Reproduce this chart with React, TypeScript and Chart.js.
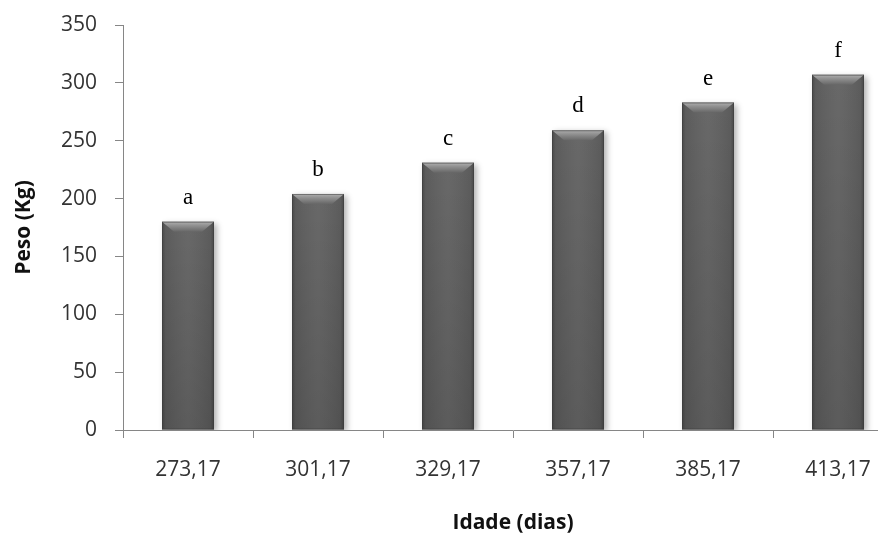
import { useEffect, useRef } from "react";
import { Chart, registerables } from "chart.js";

Chart.register(...registerables);

// Age at weighing (days) and mean body weight (kg)
const idades = ["273,17", "301,17", "329,17", "357,17", "385,17", "413,17"];
const pesos = [180, 204, 231, 259, 283, 307];
// Significance letters shown above each bar
const letras = ["a", "b", "c", "d", "e", "f"];

const Y_MIN = 0;
const Y_MAX = 350;
const Y_STEP = 50;

const AXIS_GRAY = "#868686";
const SANS = '"Open Sans", "DejaVu Sans", sans-serif';

// Shadow behind the bars, then bevel/shading overlay and letters on top
const barStyle = {
  id: "barStyle",
  beforeDatasetsDraw(chart: any) {
    const ctx = chart.ctx;
    ctx.save();
    ctx.shadowColor = "rgba(0,0,0,0.3)";
    ctx.shadowBlur = 6;
    ctx.shadowOffsetX = 3;
    ctx.shadowOffsetY = 2;
  },
  afterDatasetsDraw(chart: any) {
    const ctx = chart.ctx;
    ctx.restore();
    const meta = chart.getDatasetMeta(0);
    meta.data.forEach((bar: any, i: number) => {
      const { x, y, base, width } = bar.getProps(["x", "y", "base", "width"], true);
      const l = x - width / 2;
      const r = x + width / 2;
      const h = base - y;

      ctx.save();
      // side shading
      const side = ctx.createLinearGradient(l, 0, r, 0);
      side.addColorStop(0, "rgba(0,0,0,0.25)");
      side.addColorStop(0.07, "rgba(0,0,0,0.06)");
      side.addColorStop(0.5, "rgba(255,255,255,0.04)");
      side.addColorStop(0.93, "rgba(0,0,0,0.06)");
      side.addColorStop(1, "rgba(0,0,0,0.25)");
      ctx.fillStyle = side;
      ctx.fillRect(l, y, width, h);

      // slightly darker toward the base
      const vert = ctx.createLinearGradient(0, y, 0, base);
      vert.addColorStop(0, "rgba(0,0,0,0)");
      vert.addColorStop(1, "rgba(0,0,0,0.12)");
      ctx.fillStyle = vert;
      ctx.fillRect(l, y, width, h);

      // top bevel
      const bh = 10;
      const bi = 12;
      const top = ctx.createLinearGradient(0, y, 0, y + bh);
      top.addColorStop(0, "#b0b0b0");
      top.addColorStop(0.35, "#939393");
      top.addColorStop(1, "#676767");
      ctx.beginPath();
      ctx.moveTo(l, y);
      ctx.lineTo(r, y);
      ctx.lineTo(r - bi, y + bh);
      ctx.lineTo(l + bi, y + bh);
      ctx.closePath();
      ctx.fillStyle = top;
      ctx.fill();
      ctx.strokeStyle = "rgba(60,60,60,0.55)";
      ctx.lineWidth = 1;
      ctx.strokeRect(l + 0.5, y + 0.5, width - 1, h - 1);
      ctx.restore();

      // letter above the bar
      ctx.save();
      ctx.font = '23px "Liberation Serif", "DejaVu Serif", serif';
      ctx.fillStyle = "#000";
      ctx.textAlign = "center";
      ctx.textBaseline = "alphabetic";
      ctx.fillText(letras[i], x, y - 18);
      ctx.restore();
    });
  },
};

export default function App() {
  const canvasRef = useRef<HTMLCanvasElement | null>(null);

  useEffect(() => {
    const canvas = canvasRef.current;
    if (!canvas) return;
    const chart = new Chart(canvas, {
      type: "bar",
      data: {
        labels: idades,
        datasets: [
          {
            data: pesos,
            backgroundColor: "#626262",
            borderWidth: 0,
            barPercentage: 0.8,
            categoryPercentage: 0.5,
          },
        ],
      },
      options: {
        responsive: false,
        animation: false,
        devicePixelRatio: 1,
        layout: { padding: { top: 25, right: 9, bottom: 0, left: 0 } },
        plugins: {
          legend: { display: false },
          tooltip: { enabled: false },
        },
        scales: {
          x: {
            grid: {
              drawOnChartArea: false,
              drawTicks: true,
              tickLength: 8,
              color: AXIS_GRAY,
              offset: true,
            },
            border: { display: true, color: AXIS_GRAY, width: 1 },
            ticks: {
              font: { family: SANS, size: 21 },
              color: "#333",
              padding: 19,
              maxRotation: 0,
              autoSkip: false,
            },
            title: {
              display: true,
              text: "Idade (dias)",
              font: { family: SANS, size: 21, weight: "bold" },
              color: "#111",
              padding: { top: 0, bottom: 3 },
            },
            afterFit: (s: any) => {
              s.height = 109;
              s.paddingLeft = 0;
              s.paddingRight = 0;
            },
          },
          y: {
            min: Y_MIN,
            max: Y_MAX,
            grid: {
              drawOnChartArea: false,
              drawTicks: true,
              tickLength: 8,
              color: AXIS_GRAY,
            },
            border: { display: true, color: AXIS_GRAY, width: 1 },
            ticks: {
              stepSize: Y_STEP,
              font: { family: SANS, size: 21 },
              color: "#333",
              padding: 18,
            },
            title: {
              display: true,
              text: "Peso (Kg)",
              font: { family: SANS, size: 21, weight: "bold" },
              color: "#111",
              padding: { top: 11, bottom: 0 },
            },
            afterFit: (s: any) => {
              s.width = 123;
              s.paddingTop = 0;
              s.paddingBottom = 0;
            },
          },
        },
      },
      plugins: [barStyle],
    });
    return () => chart.destroy();
  }, []);

  return (
    <div
      style={{
        position: "absolute",
        left: 0,
        top: 0,
        width: 878,
        height: 539,
        overflow: "hidden",
        background: "#fff",
      }}
    >
      <canvas ref={canvasRef} width={912} height={539} style={{ display: "block" }} />
    </div>
  );
}
